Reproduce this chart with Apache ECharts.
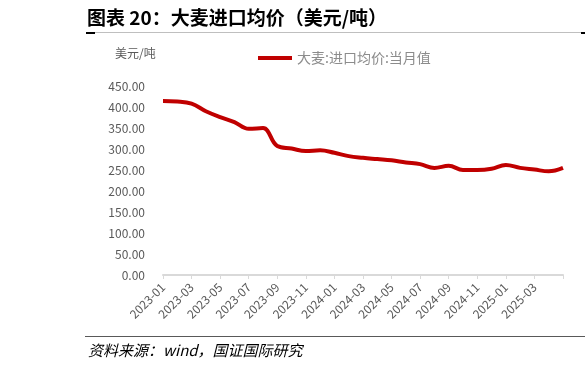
<!DOCTYPE html>
<html>
<head>
<meta charset="utf-8">
<script src="https://cdn.jsdelivr.net/npm/echarts@6/dist/echarts.min.js"></script>
<style>
  html, body { margin: 0; padding: 0; background: #fff; }
  #main { width: 585px; height: 370px; }
</style>
</head>
<body>
<div id="main"></div>
<script>
const months = [
  '2023-01', '2023-02', '2023-03', '2023-04', '2023-05', '2023-06', '2023-07', '2023-08',
  '2023-09', '2023-10', '2023-11', '2023-12', '2024-01', '2024-02', '2024-03', '2024-04',
  '2024-05', '2024-06', '2024-07', '2024-08', '2024-09', '2024-10', '2024-11', '2024-12',
  '2025-01', '2025-02', '2025-03', '2025-04', '2025-05'
]
const barleyPrice = [
  414, 413, 408, 390, 376, 364, 348, 350,
  307, 301, 295, 297, 291, 283, 279, 276,
  273, 268, 264, 255, 260, 250, 250, 253,
  262, 255, 251, 247, 255
]
const seriesName = '大麦:进口均价:当月值'

const chart = echarts.init(document.getElementById('main'))
const font = "'Noto Sans CJK SC', 'DejaVu Sans', sans-serif"

const option = {
  animation: false,
  backgroundColor: '#fff',
  textStyle: { fontFamily: font },
  graphic: [
    {
      type: 'text', left: 87, top: 8,
      style: { text: '图表 20：大麦进口均价（美元/吨）', fill: '#000', font: "bold 19px 'Noto Sans CJK SC'" }
    },
    { type: 'line', shape: { x1: 86, y1: 32.5, x2: 585, y2: 32.5 }, style: { stroke: '#bfbfbf', lineWidth: 1 } },
    { type: 'line', shape: { x1: 86, y1: 33, x2: 95, y2: 33 }, style: { stroke: '#000', lineWidth: 2 } },
    { type: 'line', shape: { x1: 581, y1: 33, x2: 585, y2: 33 }, style: { stroke: '#000', lineWidth: 2 } },
    { type: 'line', shape: { x1: 85, y1: 336.5, x2: 585, y2: 336.5 }, style: { stroke: '#595959', lineWidth: 1 } },
    {
      type: 'text', left: 115, top: 47,
      style: { text: '美元/吨', fill: '#595959', font: "12px 'Noto Sans CJK SC'" }
    },
    {
      type: 'text', left: 88, top: 343,
      style: { text: '资料来源：wind，国证国际研究', fill: '#000', font: "italic 15px 'Noto Sans CJK SC'" }
    }
  ],
  legend: {
    top: 46,
    left: 253,
    icon: 'rect',
    itemWidth: 34,
    itemHeight: 4,
    itemGap: 4,
    textStyle: { color: '#8c8c8c', fontSize: 14, fontFamily: font },
    data: [seriesName]
  },
  grid: { left: 163, right: 22, top: 86, bottom: 95 },
  xAxis: {
    type: 'category',
    data: months,
    boundaryGap: false,
    axisLine: { lineStyle: { color: '#d9d9d9', width: 2 } },
    axisTick: { interval: 1, length: 4, lineStyle: { color: '#d9d9d9' } },
    axisLabel: {
      interval: (idx) => idx % 2 === 0 && idx < months.length - 1,
      rotate: 45,
      color: '#595959',
      fontSize: 12,
      margin: 10
    }
  },
  yAxis: {
    type: 'value',
    min: 0,
    max: 450,
    interval: 50,
    axisLine: { show: false },
    axisTick: { show: false },
    splitLine: { show: false },
    axisLabel: {
      color: '#595959',
      fontSize: 12,
      margin: 18,
      formatter: (v) => v.toFixed(2)
    }
  },
  series: [
    {
      name: seriesName,
      type: 'line',
      data: barleyPrice,
      smooth: 0.4,
      symbol: 'none',
      lineStyle: { color: '#c00000', width: 4 },
      itemStyle: { color: '#c00000' }
    }
  ]
}

chart.setOption(option)
</script>
</body>
</html>
